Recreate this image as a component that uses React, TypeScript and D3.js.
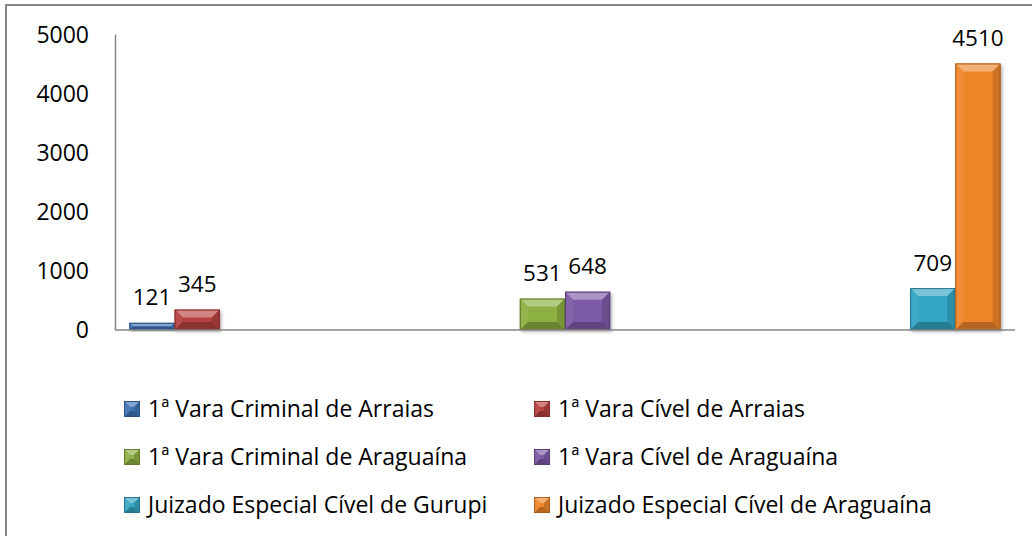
import React from "react";
import * as d3 from "d3";

const categories = ["Arraias", "Araguaína", "Gurupi / Araguaína"];
const seriesNames = [
  "1ª Vara Criminal de Arraias",
  "1ª Vara Cível de Arraias",
  "1ª Vara Criminal de Araguaína",
  "1ª Vara Cível de Araguaína",
  "Juizado Especial Cível de Gurupi",
  "Juizado Especial Cível de Araguaína",
];
const seriesValues: (number | null)[][] = [
  [121, null, null],
  [345, null, null],
  [null, 531, null],
  [null, 648, null],
  [null, null, 709],
  [null, null, 4510],
];
const seriesColors = ["#3F74B8", "#B8413F", "#8DB043", "#7D5AA6", "#35A6C4", "#F0862A"];
const yTicks = [0, 1000, 2000, 3000, 4000, 5000];

const FONT = "'Open Sans', 'Noto Sans', sans-serif";

function Bevel({ x, y, w, h, color, b0 = 8 }: { x: number; y: number; w: number; h: number; color: string; b0?: number }) {
  const b = Math.max(0, Math.min(b0, w / 2, h / 2));
  const light = d3.interpolateRgb(color, "#ffffff")(0.35);
  const mid = color;
  const sideL = d3.interpolateRgb(color, "#ffffff")(0.06);
  const sideR = d3.interpolateRgb(color, "#000000")(0.15);
  const bottom = d3.interpolateRgb(color, "#000000")(0.25);
  const pts = (arr: number[][]) => arr.map((p) => p.join(",")).join(" ");
  return (
    <g>
      <rect x={x} y={y} width={w} height={h} fill={mid} />
      <polygon points={pts([[x, y], [x + w, y], [x + w - b, y + b], [x + b, y + b]])} fill={light} />
      <polygon points={pts([[x, y], [x + b, y + b], [x + b, y + h - b], [x, y + h]])} fill={sideL} />
      <polygon points={pts([[x + w, y], [x + w, y + h], [x + w - b, y + h - b], [x + w - b, y + b]])} fill={sideR} />
      <polygon points={pts([[x, y + h], [x + b, y + h - b], [x + w - b, y + h - b], [x + w, y + h]])} fill={bottom} />
      <rect x={x + 0.5} y={y + 0.5} width={Math.max(0, w - 1)} height={Math.max(0, h - 1)} fill="none" stroke={d3.interpolateRgb(color, "#000000")(0.3)} strokeWidth={1} />
    </g>
  );
}

export default function App() {
  const width = 1032;
  const height = 536;
  const left = 115;
  const right = 1015;
  const y = d3.scaleLinear().domain([0, 5000]).range([330, 34.5]);
  const x0 = d3.scaleBand<string>().domain(categories).range([left, right]).padding(0);
  const x1 = d3
    .scaleBand<string>()
    .domain(seriesNames)
    .range([0, x0.bandwidth()])
    .paddingInner(0)
    .paddingOuter(0.32);

  const legendCols = [124, 534];
  const legendRows = [409, 457, 505];

  return (
    <svg width={width} height={height} style={{ position: "absolute", left: 0, top: 0 }}>
      <defs>
        <filter id="sh" x="-20%" y="-20%" width="140%" height="140%">
          <feDropShadow dx="1.5" dy="2" stdDeviation="1.5" floodColor="#000" floodOpacity="0.3" />
        </filter>
      </defs>
      <rect x={0} y={0} width={width} height={height} fill="#fff" />
      <rect x={6} y={5} width={1040} height={545} fill="none" stroke="#868686" strokeWidth={2} />

      {yTicks.map((t) => (
        <text key={t} x={89} y={y(t)} dy="0.36em" textAnchor="end" fontFamily={FONT} fontSize={23} fill="#000">
          {t}
        </text>
      ))}

      {seriesNames.map((s, si) =>
        categories.map((c, ci) => {
          const v = seriesValues[si][ci];
          if (v == null) return null;
          const bx = (x0(c) ?? 0) + (x1(s) ?? 0);
          const bw = x1.bandwidth();
          const top = y(v);
          return (
            <g key={s + c}>
              <g filter="url(#sh)">
                <Bevel x={bx} y={top} w={bw} h={y(0) - top} color={seriesColors[si]} />
              </g>
              <text x={bx + bw / 2} y={top - 17.5} textAnchor="middle" fontFamily={FONT} fontSize={22.5} fill="#000">
                {v}
              </text>
            </g>
          );
        })
      )}

      <line x1={115.5} x2={115.5} y1={34.5} y2={330} stroke="#868686" strokeWidth={1.5} />
      <line x1={left} x2={right} y1={330} y2={330} stroke="#868686" strokeWidth={1.5} />

      {seriesNames.map((s, i) => {
        const col = i % 2;
        const row = Math.floor(i / 2);
        const mx = legendCols[col];
        const my = legendRows[row];
        return (
          <g key={s}>
            <Bevel x={mx} y={my - 8} w={16} h={16} color={seriesColors[i]} b0={6} />
            <text x={mx + 24} y={my} dy="0.36em" fontFamily={FONT} fontSize={23} fill="#000">
              {s}
            </text>
          </g>
        );
      })}
    </svg>
  );
}
